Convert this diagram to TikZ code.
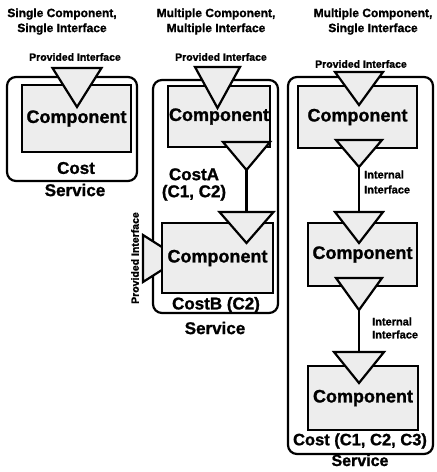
\documentclass[tikz,border=0pt]{standalone}
\usepackage{fontspec}
\setmainfont{Liberation Sans}[BoldFeatures={FakeBold=1.2}]
\tikzset{
  svc/.style={draw, line width=2.2pt, rounded corners=9pt},
  comp/.style={draw, line width=2.6pt, fill=gray!14, inner sep=0pt, font=\fontsize{18}{20}\selectfont\bfseries},
  iface/.style={draw, line width=2.2pt, fill=gray!14, line join=miter},
  wire/.style={line width=2.4pt},
  heading/.style={align=center, font=\fontsize{12}{15}\selectfont\bfseries},
  note/.style={inner sep=0pt, font=\fontsize{10.5}{13}\selectfont\bfseries},
  lbl/.style={inner sep=0pt, font=\fontsize{17}{17}\selectfont\bfseries},
}
\begin{document}
\begin{tikzpicture}[x=1pt, y=-1pt]
  \useasboundingbox (0,0) rectangle (437,472);
  % headings
  \node[heading] (h1) at (62,21.5) {Single Component,\\Single Interface};
  \node[heading] (h2) at (216,21.5) {Multiple Component,\\Multiple Interface};
  \node[heading] (h3) at (373,21.5) {Multiple Component,\\Single Interface};
  % service boxes
  \draw[svc] (7,77) rectangle (137,181);
  \draw[svc] (153,80) rectangle (278,313);
  \draw[svc] (288,77) rectangle (433,454);
  % side interface, behind component B
  \draw[iface] (143,235) -- (143,282) -- (180,258.5) -- cycle;
  % components
  \node[comp, minimum width=109pt, minimum height=67pt] (c1) at (76.5,118.5) {Component};
  \node[comp, minimum width=102pt, minimum height=61pt] (cA) at (219,116.5) {Component};
  \node[comp, minimum width=111pt, minimum height=70pt] (cB) at (217.5,258) {Component};
  \node[comp, minimum width=119pt, minimum height=62pt] (k1) at (357.5,117) {Component};
  \node[comp, minimum width=109pt, minimum height=63pt] (k2) at (362.5,254.5) {Component};
  \node[comp, minimum width=110pt, minimum height=64pt] (k3) at (363,398) {Component};
  % interfaces
  \foreach \n/\x/\y/\w/\h in {t1/77/68/24.5/39, tA/217.5/67/22.5/41, oA/246.5/142/23.5/28,
      tB/246.5/212/27/31, t3a/359/72/24/33, o3a/359/140/23/27, t3b/359/212/24/31,
      o3b/359/278/23/32, t3c/359/352/25/31} {
    \draw[iface] (\x-\w,\y) -- (\x+\w,\y) -- (\x,\y+\h) -- cycle;
    \coordinate (\n-top) at (\x,\y);
    \coordinate (\n-tip) at (\x,\y+\h);
  }
  % wires
  \draw[wire] (oA-tip) -- (tB-top);
  \draw[wire] (o3a-tip) -- (t3b-top);
  \draw[wire] (o3b-tip) -- (t3c-top);
  % interface labels
  \node[note] (p1) at (75,57) {Provided Interface};
  \node[note] (p2) at (221,57) {Provided Interface};
  \node[note] (p3) at (361,64) {Provided Interface};
  \node[note, rotate=90] (p4) at (135,258) {Provided Interface};
  \node[note, align=left, anchor=west, font=\fontsize{11}{15}\selectfont\bfseries] (i1) at (364,182) {Internal\\Interface};
  \node[note, align=left, anchor=west, font=\fontsize{11}{13}\selectfont\bfseries] (i2) at (372,328) {Internal\\Interface};
  % names
  \node[lbl] (n1) at (76,168) {Cost};
  \node[lbl] (s1) at (75,190) {Service};
  \node[lbl, align=center] (n2) at (194,184.5) {CostA\\(C1, C2)};
  \node[lbl] (n3) at (216,305) {CostB (C2)};
  \node[lbl] (s2) at (215,328) {Service};
  \node[lbl, font=\fontsize{16.5}{18}\selectfont\bfseries] (n4) at (360,441) {Cost (C1, C2, C3)};
  \node[lbl, font=\fontsize{16}{16}\selectfont\bfseries, anchor=base] (s3) at (360,466) {Service};
\end{tikzpicture}
\end{document}
